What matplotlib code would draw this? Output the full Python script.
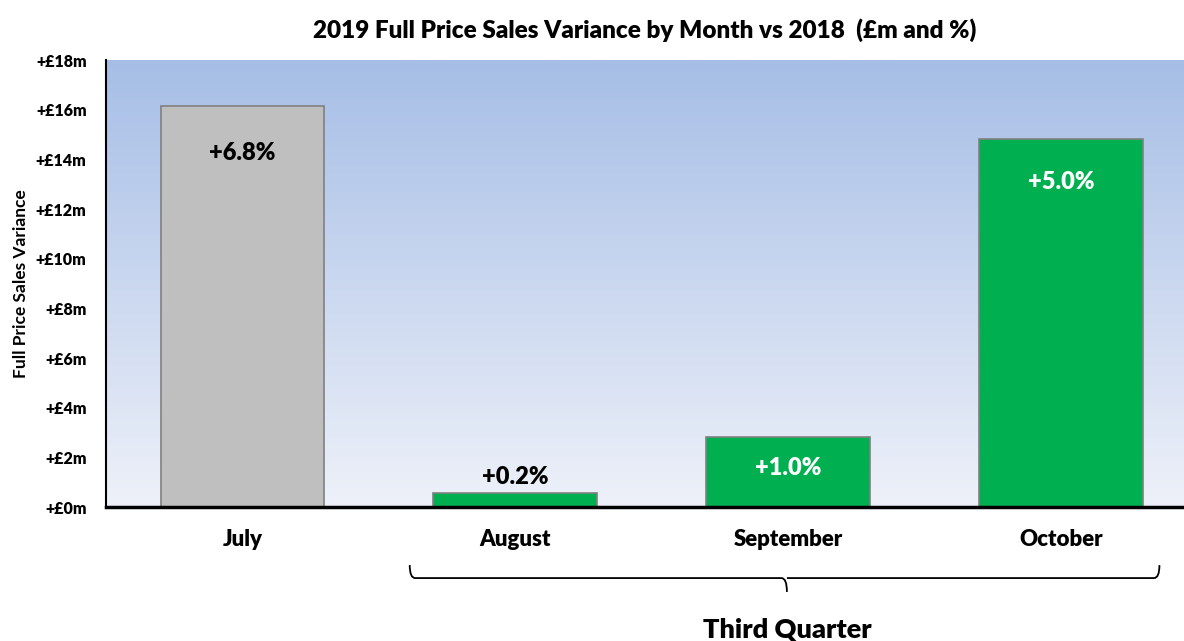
import matplotlib.pyplot as plt
import matplotlib.transforms as mtransforms
from matplotlib.path import Path
from matplotlib.patches import PathPatch
from matplotlib.colors import LinearSegmentedColormap
import numpy as np

plt.rcParams['font.family'] = ['Lato', 'DejaVu Sans']

months = ["July", "August", "September", "October"]
variance_m = [16.15, 0.56, 2.82, 14.82]
pct_labels = ["+6.8%", "+0.2%", "+1.0%", "+5.0%"]
bar_colors = ["#BFBFBF", "#00B050", "#00B050", "#00B050"]
y_ticks = [0, 2, 4, 6, 8, 10, 12, 14, 16, 18]

fig = plt.figure(figsize=(11.84, 6.41), dpi=100)
ax = fig.add_axes([0.0895, 0.209, 0.9105, 0.697])

# background gradient
cmap = LinearSegmentedColormap.from_list("bg", ["#EEF1F9", "#A6BEE6"])
grad = np.linspace(0, 1, 256).reshape(-1, 1)
ax.imshow(grad, cmap=cmap, origin="lower", aspect="auto",
          extent=[-0.5, 3.45, 0, 18], zorder=0)

x = np.arange(len(months))
bars = ax.bar(x, variance_m, width=0.6, color=bar_colors,
              edgecolor="#808080", linewidth=1.2, zorder=2)

# percentage labels
offsets = [-34, 4, -22, -31]
text_colors = ["black", "black", "white", "white"]
for xi, v, lab, off, c in zip(x, variance_m, pct_labels, offsets, text_colors):
    ax.annotate(lab, (xi, v), xytext=(0, off), textcoords="offset points",
                ha="center", va="center" if off < 0 else "bottom",
                fontsize=17, fontweight="heavy", color=c, zorder=3)

ax.set_xlim(-0.5, 3.45)
ax.set_ylim(0, 18)
ax.set_yticks(y_ticks)
ax.set_yticklabels([f"+£{t}m" for t in y_ticks], fontsize=11.5, fontweight="heavy")
ax.set_xticks(x)
ax.set_xticklabels(months, fontsize=16, fontweight="heavy")
ax.tick_params(axis="both", length=0)
ax.tick_params(axis="x", pad=16)
ax.tick_params(axis="y", pad=14)

for s in ["top", "right"]:
    ax.spines[s].set_visible(False)
ax.spines["left"].set_linewidth(1.5)
ax.spines["bottom"].set_linewidth(2.5)

ax.set_ylabel("Full Price Sales Variance", fontsize=12.5, fontweight="bold", labelpad=5)
ax.set_title("2019 Full Price Sales Variance by Month vs 2018  (£m and %)",
             fontsize=17.5, fontweight="heavy", pad=16)

# bracket under the third quarter months
trans = mtransforms.blended_transform_factory(ax.transData, ax.transAxes)
x0, x1, xm = 0.613, 3.36, 1.995
ytop, ymid, ytip = -0.130, -0.159, -0.190
r = 0.02
verts = [
    (x0, ytop), (x0, ymid), (x0 + r, ymid),
    (xm - r, ymid), (xm, ymid), (xm, ytip),
    (xm, ymid), (xm + r, ymid),
    (x1 - r, ymid), (x1, ymid), (x1, ytop),
]
codes = [
    Path.MOVETO, Path.CURVE3, Path.CURVE3,
    Path.LINETO, Path.CURVE3, Path.CURVE3,
    Path.MOVETO, Path.LINETO,
    Path.LINETO, Path.CURVE3, Path.CURVE3,
]
ax.add_patch(PathPatch(Path(verts, codes), transform=trans, fill=False,
                       edgecolor="black", linewidth=1.3, clip_on=False))
ax.text(xm, -0.275, "Third Quarter", transform=trans, ha="center", va="center",
        fontsize=19.5, fontweight="heavy")

fig.savefig("out.png", dpi=100)
